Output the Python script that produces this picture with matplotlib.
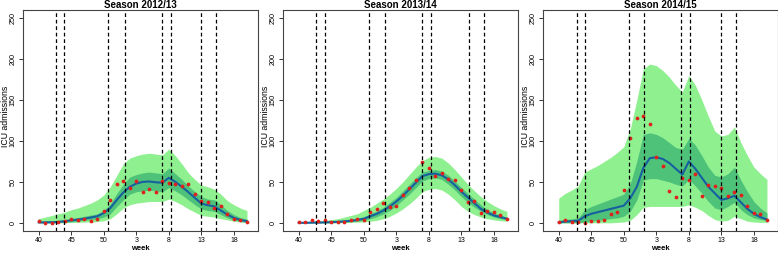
import matplotlib
matplotlib.use("Agg")
import matplotlib.pyplot as plt
import numpy as np

plt.rcParams['font.family'] = ['Liberation Sans', 'DejaVu Sans']

# week index 0..32 -> ISO weeks 40..52, 1..20
tick_pos = [0, 5, 10, 15, 20, 25, 30]
tick_labels = ['40', '45', '50', '3', '8', '13', '18']
y_ticks = [0, 50, 100, 150, 200, 250]

titles = ['Season 2012/13', 'Season 2013/14', 'Season 2014/15']

# observed ICU admissions (red dots)
obs_1213 = [2, 0, 0, 1, 2.5, 5, 4, 5, 2.5, 5, 14, 28, 47, 51, 42, 51, 38, 41, 38, 51,
            49, 48, 45, 48, 35, 27, 26, 18, 20, 11, 4.5, 3, 1]
obs_1314 = [1.5, 1, 3, 2, 3, 1, 1, 1, 3, 5, 3, 13, 17, 24, 19, 21, 34, 42, 52, 74,
            67, 57, 61, 54, 52, 40, 26, 27, 12, 15, 13, 9, 5]
obs_1415 = [1.5, 3, 1, 1.5, 0, 2.5, 2.5, 4, 11, 13, 40, 104, 128, 130, 121, 81, 70, 39, 32, 55,
            52, 60, 33, 46, 45.5, 42, 33, 38, 34, 20, 12, 11, 3]

# model mean (blue line)
mean_1213 = [0.5, 0.5, 0.7, 1, 2, 3, 4, 5, 6.5, 8, 12, 18, 28, 37, 44, 48, 50, 50.5, 49.5, 49,
             55, 50, 44, 37.5, 30.5, 23.5, 21.5, 20, 15, 10, 6, 3.5, 2]
mean_1314 = [0, 0, 0.2, 0.3, 0.5, 0.8, 1.2, 1.8, 2.5, 3.5, 5, 8, 11, 15, 20, 26, 33, 41, 49, 57,
             59.5, 60, 58, 53, 46, 38, 31, 24, 17, 12.5, 9, 7, 5]
mean_1415 = [0.5, 1.5, 2, 2.5, 8, 11, 13, 15, 17, 19, 21, 30, 44, 67, 79, 80, 78, 73, 66, 59,
             75, 66, 55, 44, 36, 28, 30, 33, 25, 17, 11, 7, 4]

# outer (light) band
lo95_1213 = [0, 0, 0, 0, 0, 0.5, 0.5, 1, 1, 1.5, 2.5, 5, 11, 18, 22, 24, 25, 26, 26, 26,
             29, 26, 22, 17, 13, 9, 8, 7, 5, 3.5, 2, 1, 0.5]
hi95_1213 = [5, 7, 9, 11, 13, 16, 18, 21, 24, 28, 34, 44, 58, 72, 79, 82, 84, 85, 84, 83,
             90, 82, 72, 61, 53, 46, 44, 41, 35, 27, 22, 18, 15]
lo95_1314 = [0, 0, 0, 0, 0, 0, 0, 0.2, 0.5, 0.8, 1, 2, 3, 5, 8, 12, 17, 23, 30, 38,
             41, 42, 40, 35, 28, 20, 14, 10, 7, 5, 3.5, 2.5, 2]
hi95_1314 = [1, 1.5, 2, 2.5, 3, 4, 5, 7, 9, 11, 15, 19, 24, 29, 35, 42, 50, 59, 68, 76,
             80, 81, 79, 73, 65, 56, 47, 39, 32, 26, 21, 17, 14]
lo95_1415 = [0, 0, 0, 0, 0, 0, 0, 0, 0, 0.5, 1, 3, 10, 19, 20, 20, 20, 20, 20, 20,
             22, 19, 15, 9, 4, 2, 3, 8, 5, 2, 1, 0.5, 0.5]
hi95_1415 = [30, 36, 40, 45, 62, 66, 70, 75, 80, 86, 93, 115, 150, 188, 194, 192, 186, 178, 168, 160,
             180, 168, 150, 130, 112, 106, 108, 117, 98, 82, 68, 60, 53]

# inner (dark) band
lo50_1213 = [0, 0, 0, 0.3, 0.8, 1.3, 2, 3, 4, 5, 7, 11, 20, 28, 35, 38, 39, 40, 39, 38,
             43, 39, 34, 28, 22, 17, 15, 14, 10, 6, 3.5, 1.5, 0.5]
hi50_1213 = [1.5, 2, 2.5, 3, 4, 5, 6.5, 8, 9.5, 11, 15, 23, 36, 47, 56, 59, 61, 62, 61, 60,
             67, 60, 53, 45, 38, 32, 29, 28, 22, 15, 10, 6.5, 4.5]
lo50_1314 = [0, 0, 0, 0, 0, 0.1, 0.4, 0.8, 1.3, 2, 3, 5, 7.5, 11, 15, 21, 28, 35, 43, 51,
             54, 55, 53, 47, 40, 32, 25, 19, 14, 10, 7, 5, 3.5]
hi50_1314 = [0.3, 0.4, 0.6, 0.8, 1.2, 1.6, 2.2, 3, 4, 5.5, 7.5, 11, 14.5, 19, 25, 31, 39, 47, 55, 62,
             64, 65, 63, 58, 51, 43, 36, 29, 22, 16, 12, 9.5, 6.5]
lo50_1415 = [0, 0, 0, 0, 1, 2, 3, 4, 5, 6, 8, 14, 28, 52, 54, 54, 52, 50, 47, 45,
             53, 45, 36, 26, 18, 16, 20, 25, 16, 10, 6, 4, 3]
hi50_1415 = [3, 4, 5, 6, 16, 20, 23, 26, 29, 32, 35, 48, 75, 108, 110, 108, 104, 98, 92, 90,
             103, 95, 82, 68, 58, 56, 60, 68, 52, 38, 26, 18, 12]

# dashed vertical markers (week index)
vlines_1213 = [2.67, 3.96, 10.6, 13.2, 18.9, 20.3, 24.9, 27.3]
vlines_1314 = [2.67, 4.0, 10.8, 13.2, 19.0, 20.3, 26.1, 28.5]
vlines_1415 = [2.76, 4.03, 10.77, 13.16, 18.8, 20.1, 24.9, 27.2]

seasons = [
    (obs_1213, mean_1213, lo95_1213, hi95_1213, lo50_1213, hi50_1213, vlines_1213),
    (obs_1314, mean_1314, lo95_1314, hi95_1314, lo50_1314, hi50_1314, vlines_1314),
    (obs_1415, mean_1415, lo95_1415, hi95_1415, lo50_1415, hi50_1415, vlines_1415),
]

W, H = 778, 254
ax_left, ax_w = 23.3, 234.7
fig = plt.figure(figsize=(W / 100, H / 100), dpi=100)

for k, (obs, mean, lo95, hi95, lo50, hi50, vl) in enumerate(seasons):
    left = ax_left + 260 * k
    ax = fig.add_axes([left / W, 23 / H, ax_w / W, 221 / H])
    x = np.arange(len(obs))

    ax.fill_between(x, lo95, hi95, color='#8ff08f', lw=0)
    ax.fill_between(x, lo50, hi50, color='#4fc27a', lw=0)
    ax.plot(x, mean, color='#16609f', lw=1.5, solid_joinstyle='round')
    ax.plot(x, obs, 'o', color='#e0201b', ms=2.7, mec='none')
    for v in vl:
        ax.axvline(v, color='black', lw=0.9, ls=(0, (3, 2.2)))

    ax.set_xlim(-2.37, 33.7)
    ax.set_ylim(-10, 260)
    ax.set_xticks(tick_pos)
    ax.set_xticklabels(tick_labels)
    ax.set_yticks(y_ticks)
    ax.set_yticklabels([str(t) for t in y_ticks], rotation=90, va='center')
    ax.tick_params(axis='x', labelsize=5, length=3, width=0.7, pad=1.5, color='#333333')
    ax.tick_params(axis='y', labelsize=5.2, length=3, width=0.7, pad=1.8, color='#333333')
    for s in ax.spines.values():
        s.set_color('#444444')
        s.set_linewidth(0.8)

    ax.set_title(titles[k], fontsize=7, fontweight='bold', pad=1.5)
    ax.set_xlabel('week', fontsize=5.5, fontweight='bold', labelpad=0.5)
    ax.set_ylabel('ICU admissions', fontsize=6.3)
    # y label sits about 9 px right of the panel's left edge in the figure
    ax.yaxis.set_label_coords((9.5 - ax_left) / ax_w, 0.52)

fig.savefig('out.png', dpi=100)
